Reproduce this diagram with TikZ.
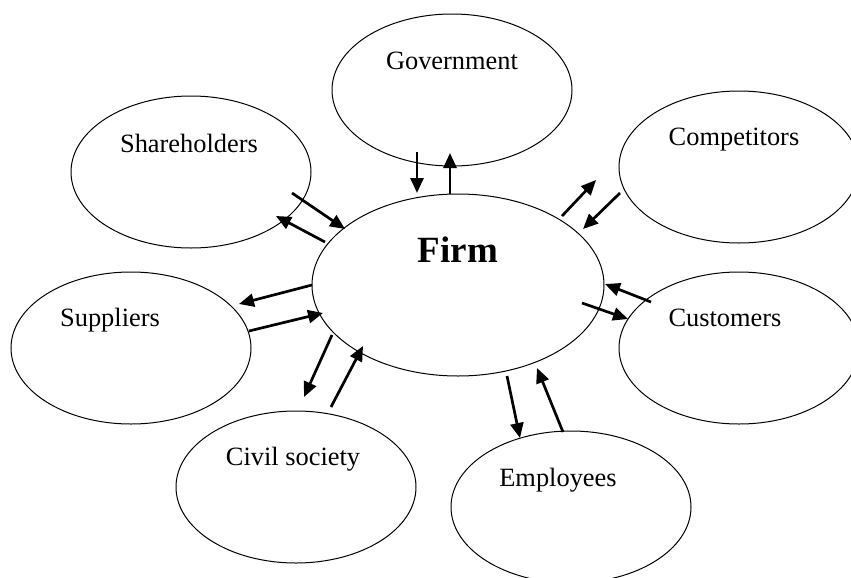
\documentclass[tikz,border=0pt]{standalone}
\usepackage{fontspec}
\setmainfont{Liberation Serif}
\usetikzlibrary{arrows.meta,shapes.geometric,calc}

\tikzset{
  party/.style={draw, ellipse, line width=0.5pt, minimum width=120pt, minimum height=76pt, inner sep=0pt},
  partytext/.style={anchor=base, font=\fontsize{13.2}{15}\selectfont},
  flow/.style={line width=1.35pt, -{Triangle[length=7.5pt,width=6.5pt]}}
}

\begin{document}
\begin{tikzpicture}[x=0.5pt, y=-0.5pt]
    \useasboundingbox (0,0) rectangle (851,578);
    \clip (0,0) rectangle (851,578);

    % The firm in the middle
    \node[party, minimum width=146pt, minimum height=91pt] (firm) at (458,285) {};
    \node[anchor=base, font=\bfseries\fontsize{18.5}{22}\selectfont] (firmtext) at ($(firm)+(0,-23)$) {Firm};

    % The stakeholders around it
    \node[party] (gov) at (452,90) {};
    \node[party] (share) at (191,172) {};
    \node[party] (comp) at (739,167) {};
    \node[party] (supp) at (131,348) {};
    \node[party] (cust) at (739,348) {};
    \node[party] (civil) at (296,487) {};
    \node[party] (emp) at (571,507) {};

    \node[partytext] (govtext) at ($(gov)+(0,-21)$) {Government};
    \node[partytext] (sharetext) at ($(share)+(-2,-20)$) {Shareholders};
    \node[partytext] (comptext) at ($(comp)+(-5,-22)$) {Competitors};
    \node[partytext] (supptext) at ($(supp)+(-21,-22)$) {Suppliers};
    \node[partytext] (custtext) at ($(cust)+(-14,-22)$) {Customers};
    \node[partytext] (civiltext) at ($(civil)+(-3,-22)$) {Civil society};
    \node[partytext] (emptext) at ($(emp)+(-13,-21)$) {Employees};

    % Two-way flows between the firm and each stakeholder
    \foreach \a/\ax/\ay/\b/\bx/\by in {
        gov/-35/62/firm/-41/-92, firm/-8/-91/gov/-2/63,
        share/101/21/firm/-113/-56, firm/-133/-43/share/85/44,
        firm/104/-69/comp/-143/13, comp/-119/26/firm/125/-56,
        cust/-88/-46/firm/147/-1, firm/124/18/cust/-111/-29,
        firm/-146/0/supp/108/-44, supp/118/-17/firm/-135/28,
        firm/-126/50/civil/8/-90, civil/35/-80/firm/-95/61,
        firm/49/91/emp/-51/-69, emp/-8/-75/firm/79/83} {
        \draw[flow] ($(\a)+(\ax,\ay)$) -- ($(\b)+(\bx,\by)$);
    }
\end{tikzpicture}
\end{document}
